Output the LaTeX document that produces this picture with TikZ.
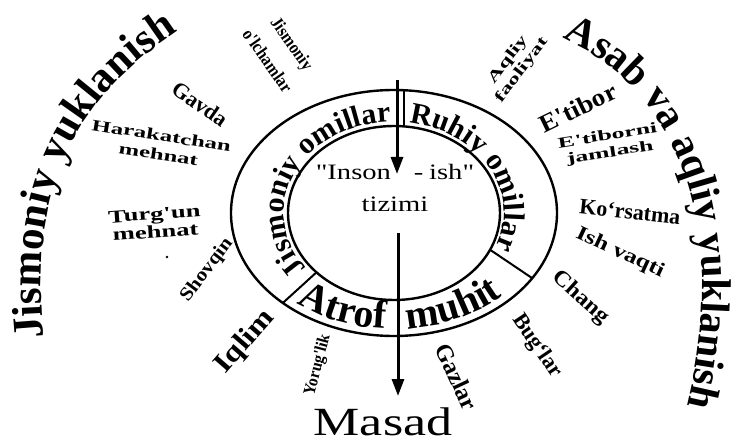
\documentclass[tikz,border=0pt]{standalone}
\usepackage{fontspec}
\setmainfont{Liberation Serif}
\newfontfamily\rawserif{Liberation Serif}
\usetikzlibrary{decorations.text,arrows.meta}
\newcommand\fsz[2]{\rawserif\fontsize{#1}{#2}\selectfont}
\begin{document}
\begin{tikzpicture}[x=1pt,y=-1pt,
  lbl/.style={inner sep=0pt, align=center},
  conn/.style={line width=3pt, -{Triangle[length=17pt,width=12pt]}},
  ring/.style={line width=2.4pt},
  divider/.style={line width=2pt}]
\useasboundingbox (0,0) rectangle (753,441);
\coordinate (c) at (394,213);
% rings
\draw[ring] (c) ellipse [x radius=163, y radius=123];
\draw[ring] (c) ellipse [x radius=106, y radius=87];
% dividers
\draw[divider] (404,90) -- (404,127);
\path (c) ++(133:163 and 123) coordinate (dlo);
\path (c) ++(137:106 and 87) coordinate (dli);
\draw[divider] (dlo) -- (dli);
\path (c) ++(32:163 and 123) coordinate (dro);
\path (c) ++(25:106 and 87) coordinate (dri);
\draw[divider] (dro) -- (dri);
% ring texts
\path[decorate, decoration={text along path, text align=center,
  text={|\bfseries\fsz{30}{34}|Jismoniy omillar}}]
  (c) ++(140:110 and 91) arc[start angle=140, end angle=271, x radius=110, y radius=91];
\path[decorate, decoration={text along path, text align=center,
  text={|\bfseries\fsz{30}{34}|Ruhiy omillar}}]
  (c) ++(279:110 and 91) arc[start angle=279, end angle=381, x radius=110, y radius=91];
\path[decorate, decoration={text along path, text align=center,
  text={|\bfseries\fsz{40}{44}|Atrof}}]
  (c) ++(130:155 and 116) arc[start angle=130, end angle=92, x radius=155, y radius=116];
\path[decorate, decoration={text along path, text align=center,
  text={|\bfseries\fsz{40}{44}|muhit}}]
  (c) ++(87:155 and 116) arc[start angle=87, end angle=43, x radius=155, y radius=116];
% outer arcs
\path[decorate, decoration={text along path, text align=center,
  text={|\bfseries\fsz{43}{47}|Jismoniy yuklanish}}]
  (44,340) .. controls (30,200) and (65,105) .. (180,30);
\path[decorate, decoration={text along path, text align=center,
  text={|\bfseries\fsz{41.5}{46}|Asab va aqliy yuklanish}}]
  (555,35) .. controls (700,95) and (725,260) .. (685,414);
% centre
\node[lbl, font=\fsz{22}{26}, xscale=1.3] (inson) at (395,172) {"Inson\hspace{0.8em}-\hspace{0.2em}ish"};
\node[lbl, font=\fsz{22}{26}, xscale=1.3] (tizimi) at (395,204) {tizimi};
\node[lbl, font=\fsz{40}{44}, xscale=1.3, anchor=base, text depth=0pt] (masad) at (383,435) {Masad};
\coordinate (topstart) at (397,80);
\coordinate (topend) at (397,174);
\coordinate (botstart) at (398,233);
\coordinate (botend) at (398,396);
\draw[conn] (topstart) -- (topend);
\draw[conn] (botstart) -- (botend);
% labels
\node[lbl, font=\bfseries\fsz{22}{24}, rotate=-35] (gavda) at (200,104) {Gavda};
\node[lbl, font=\bfseries\fsz{16}{19}, rotate=-9, xscale=1.55] (harak) at (160,145) {Harakatchan\\mehnat};
\node[lbl, font=\bfseries\fsz{18}{18}, rotate=4, xscale=1.48] (turgun) at (155,223) {Turg'un\\mehnat};
\node[lbl, font=\bfseries\fsz{19}{20}, rotate=53, xscale=1.12] (shovqin) at (207,270) {Shovqin};
\node[lbl, font=\bfseries\fsz{28}{30}, rotate=49, xscale=1.15] (iqlim) at (245,342) {Iqlim};
\node[lbl, font=\bfseries\fsz{17}{18}, rotate=75, xscale=0.92] (yorug) at (318,365) {Yorug'lik};
\node[lbl, font=\bfseries\fsz{24}{26}, rotate=-65] (gazlar) at (457,377) {Gazlar};
\node[lbl, font=\bfseries\fsz{22}{24}, rotate=-56] (buglar) at (537,346) {Bug‘lar};
\node[lbl, font=\bfseries\fsz{22}{24}, rotate=-42, xscale=1.1] (chang) at (580,298) {Chang};
\node[lbl, font=\bfseries\fsz{20}{22}, rotate=-25, xscale=1.27] (ishvaqti) at (620,253) {Ish vaqti};
\node[lbl, font=\bfseries\fsz{22}{24}, rotate=-6] (korsatma) at (630,212) {Ko‘rsatma};
\node[lbl, font=\bfseries\fsz{15}{17}, rotate=9, xscale=1.72] (etiborni) at (609,145) {E'tiborni\\jamlash};
\node[lbl, font=\bfseries\fsz{25}{27}, rotate=26, xscale=1.08] (etibor) at (578,108) {E'tibor};
\node[lbl, font=\bfseries\fsz{15}{17}, rotate=53, xscale=1.6] (aqliy) at (515,65) {Aqliy\\faoliyat};
\node[lbl, font=\bfseries\fsz{18}{30}, rotate=-55, xscale=0.88] (jismo) at (280,52) {Jismoniy\\o'lchamlar};
\fill (167,257) circle (1.3);
\end{tikzpicture}
\end{document}
